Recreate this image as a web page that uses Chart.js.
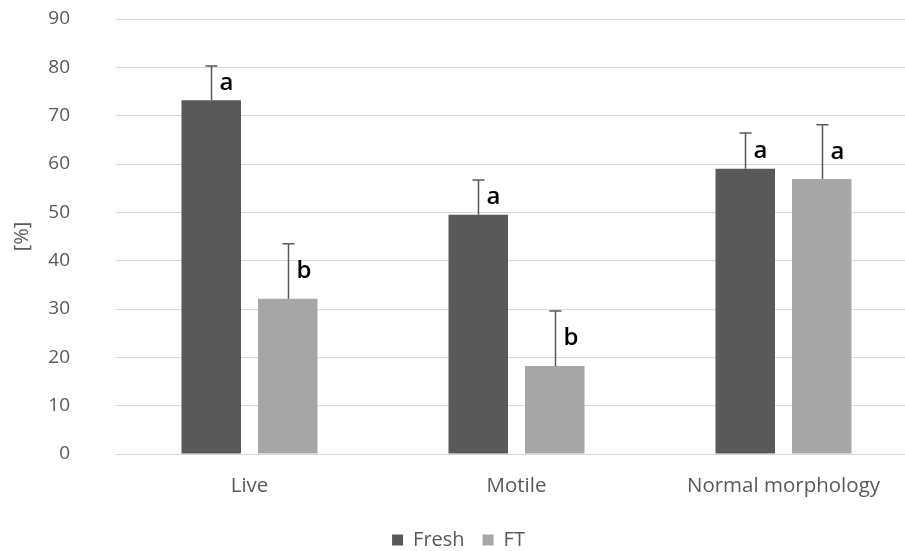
<!DOCTYPE html>
<html>
<head>
<meta charset="utf-8">
<script src="https://cdn.jsdelivr.net/npm/chart.js@4.4.1/dist/chart.umd.min.js"></script>
<style>
html,body{margin:0;padding:0;overflow:hidden;background:#fff;}
#wrap{width:917px;height:560px;}
</style>
</head>
<body>
<div id="wrap"><canvas id="c" width="917" height="560"></canvas></div>
<script>
const categories = ['Live', 'Motile', 'Normal morphology'];
const freshValues = [73.2, 49.5, 59.0];
const ftValues = [32.1, 18.2, 56.9];
const freshErrors = [7.1, 7.2, 7.4];
const ftErrors = [11.4, 11.4, 11.2];
const freshLetters = ['a', 'a', 'a'];
const ftLetters = ['b', 'b', 'a'];
const yTicks = [0, 10, 20, 30, 40, 50, 60, 70, 80, 90];

const FONT = "'Open Sans', 'Noto Sans', sans-serif";

const errorPlugin = {
  id: 'errorBars',
  afterDatasetsDraw(chart) {
    const ctx = chart.ctx;
    const y = chart.scales.y;
    chart.data.datasets.forEach((ds, di) => {
      const meta = chart.getDatasetMeta(di);
      meta.data.forEach((bar, i) => {
        const top = y.getPixelForValue(ds.data[i] + ds.errors[i]);
        const base = bar.y;
        const x = Math.round(bar.x) + 0.5;
        ctx.save();
        ctx.strokeStyle = '#595959';
        ctx.lineWidth = 1.5;
        ctx.beginPath();
        ctx.moveTo(x, base);
        ctx.lineTo(x, top);
        ctx.moveTo(x - 6, top);
        ctx.lineTo(x + 6, top);
        ctx.stroke();
        ctx.fillStyle = '#000';
        ctx.font = "600 24px " + FONT;
        ctx.textAlign = 'left';
        ctx.textBaseline = 'alphabetic';
        ctx.fillText(ds.letters[i], x + 8, (top + base) / 2 + 7);
        ctx.restore();
      });
    });
  }
};

new Chart(document.getElementById('c'), {
  type: 'bar',
  data: {
    labels: categories,
    datasets: [
      { label: 'Fresh', data: freshValues, errors: freshErrors, letters: freshLetters,
        backgroundColor: '#595959', borderWidth: 0 },
      { label: 'FT', data: ftValues, errors: ftErrors, letters: ftLetters,
        backgroundColor: '#a6a6a6', borderWidth: 0 }
    ]
  },
  options: {
    responsive: false,
    animation: false,
    devicePixelRatio: 1,
    categoryPercentage: 0.573,
    barPercentage: 0.778,
    layout: { padding: { top: 19, right: 0, left: 0, bottom: 0 } },
    plugins: {
      tooltip: { enabled: false },
      legend: {
        position: 'bottom',
        labels: {
          boxWidth: 11, boxHeight: 11, padding: 18,
          color: '#595959',
          font: { family: FONT, size: 20 }
        }
      }
    },
    scales: {
      x: {
        grid: { display: false },
        border: { display: true, color: '#d9d9d9', width: 1 },
        ticks: { color: '#595959', font: { family: FONT, size: 20.5 }, padding: 12 },
        afterFit(s) { s.height = 58; }
      },
      y: {
        min: 0, max: 90,
        afterBuildTicks(s) { s.ticks = yTicks.map(v => ({ value: v })); },
        grid: { color: '#d9d9d9', drawTicks: true, tickLength: 43, tickColor: 'rgba(0,0,0,0)', lineWidth: 1 },
        border: { display: false },
        ticks: { color: '#595959', font: { family: FONT, size: 19 }, padding: 3 },
        title: { display: true, text: '[%]', color: '#595959', font: { family: FONT, size: 20 }, padding: { top: 10, bottom: 0 } },
        afterFit(s) { s.width = 116; }
      }
    }
  },
  plugins: [errorPlugin]
});
</script>
</body>
</html>
